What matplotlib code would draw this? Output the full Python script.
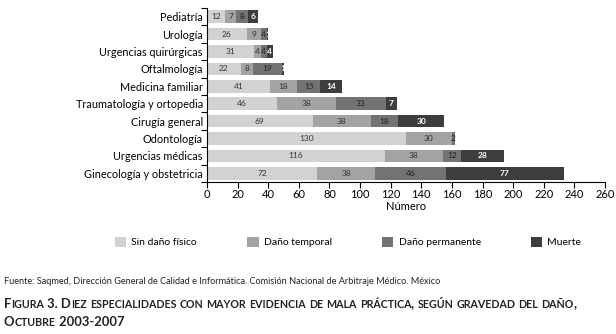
import matplotlib
matplotlib.use("Agg")
import matplotlib.pyplot as plt
import numpy as np

plt.rcParams['font.family'] = ['Lato', 'DejaVu Sans']

categorias = ["Pediatría", "Urología", "Urgencias quirúrgicas", "Oftalmología",
              "Medicina familiar", "Traumatología y ortopedia", "Cirugía general",
              "Odontología", "Urgencias médicas", "Ginecología y obstetricia"]
sin_dano = [12, 26, 31, 22, 41, 46, 69, 130, 116, 72]
temporal = [7, 9, 4, 8, 18, 38, 38, 30, 38, 38]
permanente = [8, 4, 4, 19, 15, 33, 18, 2, 12, 46]
muerte = [6, 1, 4, 1, 14, 7, 30, 0, 28, 77]

series = [("Sin daño físico", sin_dano, "#d2d2d2", "#333333"),
          ("Daño temporal", temporal, "#a3a3a3", "#333333"),
          ("Daño permanente", permanente, "#737373", "#222222"),
          ("Muerte", muerte, "#3d3d3d", "white")]

fig = plt.figure(figsize=(6.16, 3.34), dpi=100)
ax = fig.add_axes([207 / 616, 1 - 182 / 334, (605 - 207) / 616, (182 - 8) / 334])

y = np.arange(len(categorias))
left = np.zeros(len(categorias))
for nombre, vals, color, tcol in series:
    vals = np.array(vals, dtype=float)
    bars = ax.barh(y, vals, left=left, height=0.72, color=color, label=nombre)
    for b, v in zip(bars, vals):
        if v <= 0:
            continue
        ax.text(b.get_x() + b.get_width() / 2, b.get_y() + b.get_height() / 2,
                str(int(v)), ha="center", va="center", fontsize=6, color=tcol,
                fontweight="bold" if tcol == "white" else "normal")
    left += vals

ax.set_xlim(0, 260)
ax.set_ylim(len(categorias) - 0.5, -0.5)
ax.set_xticks(np.arange(0, 261, 20))
ax.set_yticks(y)
ax.set_yticklabels(categorias, fontsize=7.8)
ax.set_yticks(np.arange(-0.5, len(categorias) - 0.4, 1), minor=True)
ax.tick_params(axis="y", which="major", length=0, pad=3)
ax.tick_params(axis="y", which="minor", length=4, width=0.8)
ax.tick_params(axis="x", labelsize=8, length=4, width=0.8, pad=1)
ax.set_xlabel("Número", fontsize=8, labelpad=1)
for s in ["top", "right"]:
    ax.spines[s].set_visible(False)
ax.spines["left"].set_linewidth(0.8)
ax.spines["bottom"].set_linewidth(0.8)

fig.legend(loc="center", bbox_to_anchor=(0.565, 1 - 242 / 334), ncol=4, frameon=False,
           fontsize=7.5, handlelength=1.1, handleheight=1.1, columnspacing=4.8,
           handletextpad=0.5)

fig.text(4 / 616, 1 - 281 / 334,
         "Fuente: Saqmed, Dirección General de Calidad e Informática. Comisión Nacional de Arbitraje Médico. México",
         fontsize=6.6, va="center", color="#222222")


# small caps caption, drawn piece by piece
def small_caps(x_px, y_px, texto, big=9.4, small=7.7):
    renderer = fig.canvas.get_renderer()
    x = x_px
    pieces = []
    for ch in texto:
        size = small if ch.islower() else big
        if pieces and pieces[-1][1] == size:
            pieces[-1][0] += ch.upper()
        else:
            pieces.append([ch.upper(), size])
    for s, size in pieces:
        t = fig.text(x / 616, 1 - y_px / 334, s, fontsize=size, fontweight="bold",
                     va="baseline", color="#222222")
        x = t.get_window_extent(renderer).x1


small_caps(4, 308, "Figura 3. Diez especialidades con mayor evidencia de mala práctica, según gravedad del daño,")
small_caps(4, 326, "Octubre 2003-2007")

fig.savefig("out.png", dpi=100)
